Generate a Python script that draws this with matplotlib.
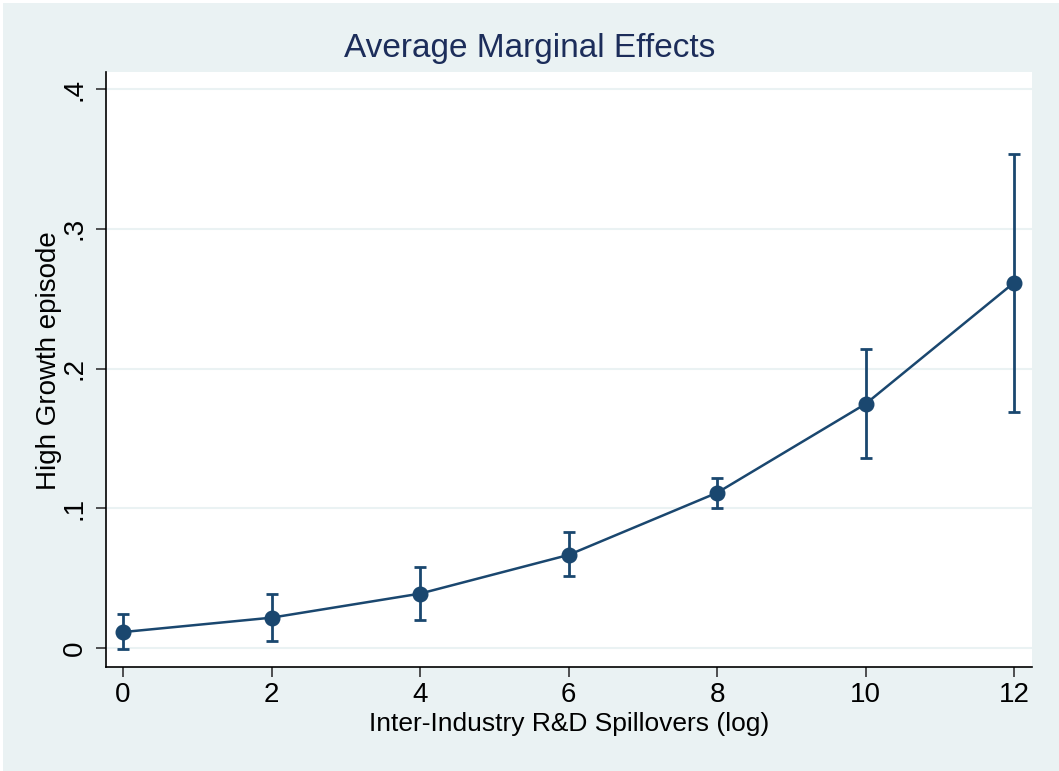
import matplotlib
matplotlib.use("Agg")
import matplotlib.pyplot as plt
from matplotlib.patches import Rectangle

# Data
spill = [0, 2, 4, 6, 8, 10, 12]
margins = [0.0114, 0.0217, 0.0389, 0.0666, 0.1111, 0.1747, 0.2615]
ci_low = [-0.0010, 0.0048, 0.0198, 0.0515, 0.1000, 0.1360, 0.1691]
ci_high = [0.0240, 0.0386, 0.0580, 0.0828, 0.1219, 0.2138, 0.3534]

yticks = [0, 0.1, 0.2, 0.3, 0.4]
ylabels = ["0", ".1", ".2", ".3", ".4"]

navy = "#1a476f"
bg = "#eaf2f3"

plt.rcParams["font.family"] = ["Liberation Sans", "DejaVu Sans"]

fig = plt.figure(figsize=(10.59, 7.71), dpi=100, facecolor="white")
fig.patches.append(Rectangle((3 / 1059, 0), 1 - 3 / 1059, 1 - 3 / 771,
                             transform=fig.transFigure, facecolor=bg,
                             edgecolor="none", zorder=-10))

ax = fig.add_axes([0.1001, 0.1349, 0.8744, 0.7717])
ax.set_facecolor("white")

err_lo = [m - l for m, l in zip(margins, ci_low)]
err_hi = [h - m for m, h in zip(margins, ci_high)]
ax.errorbar(spill, margins, yerr=[err_lo, err_hi], color=navy, lw=1.8,
            elinewidth=2, capsize=4.5, capthick=2, marker="o", ms=10.5,
            zorder=3)

for y in yticks:
    ax.axhline(y, color=bg, lw=1.5, zorder=1)

ax.set_xlim(-0.229, 12.24)
ax.set_ylim(-0.0136, 0.4122)
ax.set_xticks(spill)
ax.set_yticks(yticks)
ax.set_yticklabels(ylabels, rotation=90, va="center")
ax.tick_params(labelsize=20, length=7, width=1.2, color="#333333")
ax.tick_params(axis="y", pad=6)

for s in ["top", "right"]:
    ax.spines[s].set_visible(False)
for s in ["left", "bottom"]:
    ax.spines[s].set_linewidth(1.2)

ax.set_xlabel("Inter-Industry R&D Spillovers (log)", fontsize=19, labelpad=3)
ax.set_ylabel("High Growth episode", fontsize=20)
ax.yaxis.set_label_coords(-0.047, 0.515)
fig.text(0.5, 0.937, "Average Marginal Effects", fontsize=24,
         color="#1c2d5a", ha="center", va="center")

fig.savefig("out.png", dpi=100, facecolor=fig.get_facecolor())
